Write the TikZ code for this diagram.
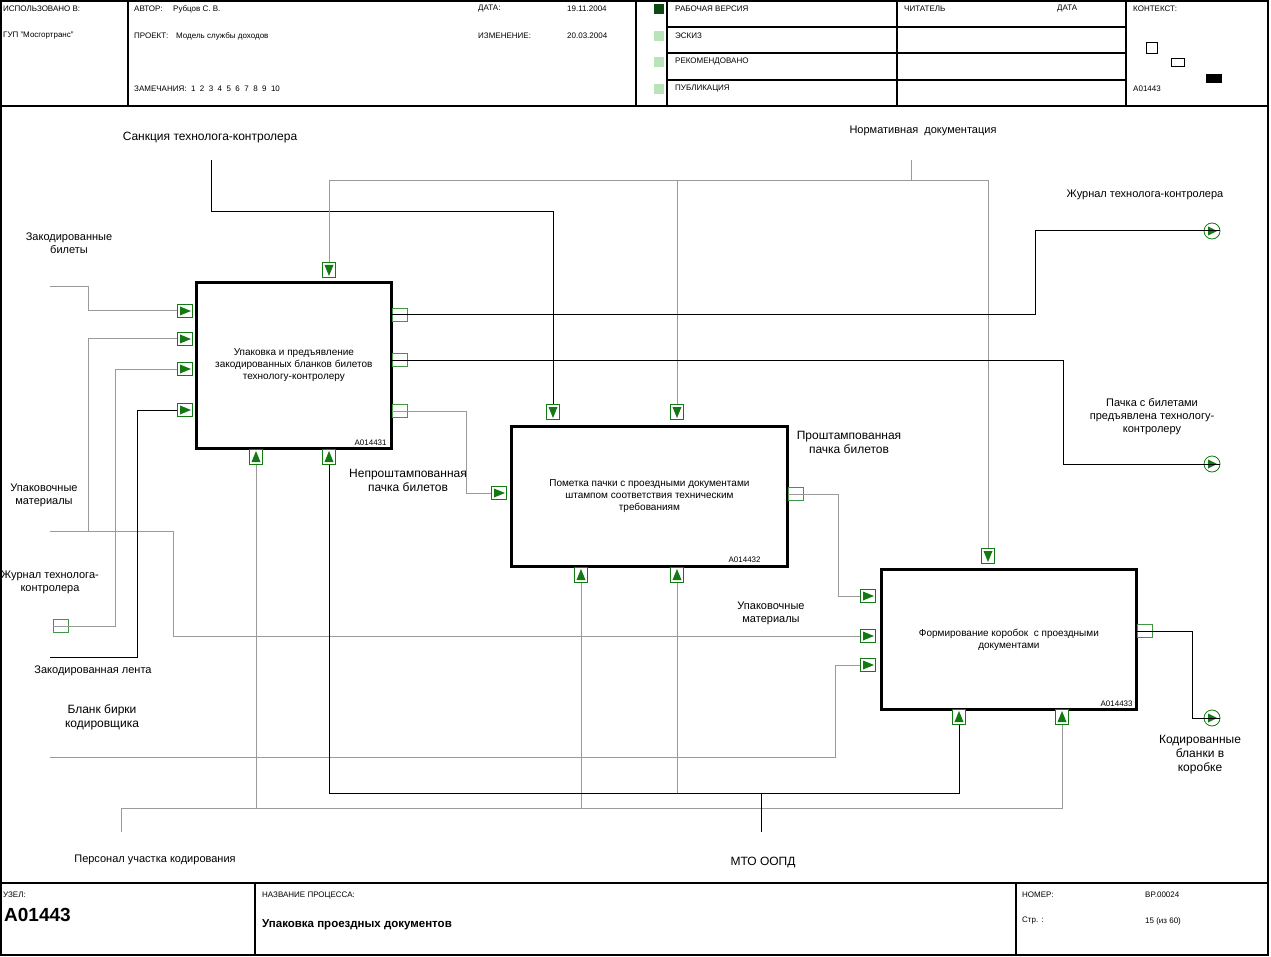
\documentclass[tikz,border=0pt]{standalone}
\usepackage{fontspec}
\setmainfont{Liberation Sans}
\definecolor{idgreen}{HTML}{137A13}
\definecolor{iddark}{HTML}{0D4A12}
\definecolor{idlight}{HTML}{B9E4B9}
\definecolor{lngray}{HTML}{9A9A9A}

\tikzset{
  frame/.style={line width=1.6pt},
  hdr/.style={font=\fontsize{8}{9}\selectfont, anchor=west, inner sep=0pt},
  proc/.style={draw, line width=2.8pt, fill=white, anchor=north west, align=center,
    inner sep=0pt, font=\fontsize{10}{12}\selectfont},
  procid/.style={font=\fontsize{8}{9}\selectfont, anchor=south east, inner sep=0pt},
  lbl/.style={align=center, inner sep=0pt, font=\fontsize{11}{13}\selectfont},
  biglbl/.style={align=center, inner sep=0pt, font=\fontsize{12}{14}\selectfont},
  ln/.style={draw=lngray, line width=1pt},
  lnk/.style={draw=black, line width=1pt},
  inmark/.style={draw=idgreen, line width=0.8pt, fill=white, inner sep=0pt,
    minimum width=15pt, minimum height=13pt,
    path picture={\fill[idgreen] ([xshift=2.5pt,yshift=-2pt]path picture bounding box.north west)
      -- ([xshift=-1.5pt]path picture bounding box.east)
      -- ([xshift=2.5pt,yshift=2pt]path picture bounding box.south west) -- cycle;}},
  ctlmark/.style={draw=idgreen, line width=0.8pt, fill=white, inner sep=0pt,
    minimum width=13pt, minimum height=15pt,
    path picture={\fill[idgreen] ([xshift=2pt,yshift=-2.5pt]path picture bounding box.north west)
      -- ([xshift=-2pt,yshift=-2.5pt]path picture bounding box.north east)
      -- ([yshift=1.5pt]path picture bounding box.south) -- cycle;}},
  mechmark/.style={draw=idgreen, line width=0.8pt, fill=white, inner sep=0pt,
    minimum width=13pt, minimum height=15pt,
    path picture={\fill[idgreen] ([xshift=2pt,yshift=2.5pt]path picture bounding box.south west)
      -- ([xshift=-2pt,yshift=2.5pt]path picture bounding box.south east)
      -- ([yshift=-1.5pt]path picture bounding box.north) -- cycle;}},
  tunnel/.style={draw=idgreen!80, line width=0.8pt, inner sep=0pt,
    minimum width=15pt, minimum height=13pt},
  endmark/.style={circle, draw=idgreen, line width=0.8pt, fill=white, inner sep=0pt,
    minimum size=16pt,
    path picture={\fill[idgreen] ([xshift=-4pt,yshift=4.5pt]path picture bounding box.center)
      -- ([xshift=5pt]path picture bounding box.center)
      -- ([xshift=-4pt,yshift=-4.5pt]path picture bounding box.center) -- cycle;}}
}

\begin{document}
\begin{tikzpicture}[x=1pt, y=-1pt]
  \useasboundingbox (0,0) rectangle (1271,957);
  \fill[white] (0,0) rectangle (1271,957);

  % frame
  \draw[frame] (1,1) rectangle (1268,955);
  \draw[frame] (1,106) -- (1268,106);
  \draw[frame] (1,883) -- (1268,883);
  \foreach \xx in {128,636,667,897,1126}
    \draw[frame] (\xx,1) -- (\xx,106);
  \foreach \yy in {27,53,80}
    \draw[frame] (667,\yy) -- (1126,\yy);
  \draw[frame] (255,883) -- (255,955);
  \draw[frame] (1016,883) -- (1016,955);

  % header
  \node[hdr] (h1) at (3,9) {ИСПОЛЬЗОВАНО В:};
  \node[hdr] (h2) at (3,36) {ГУП "Мосгортранс"};
  \node[hdr] (h3) at (134,9) {АВТОР:};
  \node[hdr] (h4) at (173,9) {Рубцов С. В.};
  \node[hdr] (h5) at (134,36) {ПРОЕКТ:};
  \node[hdr] (h6) at (176,36) {Модель службы доходов};
  \node[hdr] (h7) at (134,89) {ЗАМЕЧАНИЯ:\ \ 1\ \ 2\ \ 3\ \ 4\ \ 5\ \ 6\ \ 7\ \ 8\ \ 9\ \ 10};
  \node[hdr] (h8) at (478,9) {ДАТА:};
  \node[hdr] (h9) at (567,9) {19.11.2004};
  \node[hdr] (h10) at (478,36) {ИЗМЕНЕНИЕ:};
  \node[hdr] (h11) at (567,36) {20.03.2004};
  \fill[iddark] (654,4) rectangle (664,14);
  \foreach \yy in {31,57,84}
    \fill[idlight] (654,\yy) rectangle (664,\yy+10);
  \node[hdr] (s1) at (675,9) {РАБОЧАЯ ВЕРСИЯ};
  \node[hdr] (s2) at (675,36) {ЭСКИЗ};
  \node[hdr] (s3) at (675,62) {РЕКОМЕНДОВАНО};
  \node[hdr] (s4) at (675,89) {ПУБЛИКАЦИЯ};
  \node[hdr] (r1) at (904,9) {ЧИТАТЕЛЬ};
  \node[hdr] (r2) at (1057,9) {ДАТА};
  \node[hdr] (k1) at (1133,9) {КОНТЕКСТ:};
  \node[hdr] (k2) at (1133,89) {A01443};
  \draw[line width=0.7pt] (1146,42) rectangle (1157,53);
  \draw[line width=0.7pt] (1171,58) rectangle (1184,66);
  \fill (1206,74) rectangle (1222,83);

  % footer
  \node[hdr] (f1) at (3,895) {УЗЕЛ:};
  \node[anchor=west, inner sep=0pt, font=\fontsize{19}{21}\selectfont\bfseries] (f2) at (4,915) {A01443};
  \node[hdr] (f3) at (262,895) {НАЗВАНИЕ ПРОЦЕССА:};
  \node[anchor=west, inner sep=0pt, font=\fontsize{11.5}{13}\selectfont\bfseries] (f4) at (262,925) {Упаковка проездных документов};
  \node[hdr] (f5) at (1022,895) {НОМЕР:};
  \node[hdr] (f6) at (1145,895) {BP.00024};
  \node[hdr] (f7) at (1022,921) {Стр. :};
  \node[hdr] (f8) at (1145,921) {15 (из 60)};

  % activity boxes
  \node[proc, minimum width=195pt, minimum height=166pt] (p1) at (195,281)
    {Упаковка и предъявление\\закодированных бланков билетов\\технологу-контролеру};
  \node[proc, minimum width=276pt, minimum height=140pt] (p2) at (510,425)
    {Пометка пачки с проездными документами\\штампом соответствия техническим\\требованиям};
  \node[proc, minimum width=255pt, minimum height=140pt] (p3) at (880,568)
    {Формирование коробок\ \ с проездными\\документами};
  \node[procid] (p1n) at ([xshift=-6pt,yshift=4pt]p1.south east) {A014431};
  \node[procid] (p2n) at ([xshift=-28pt,yshift=5pt]p2.south east) {A014432};
  \node[procid] (p3n) at ([xshift=-5pt,yshift=4pt]p3.south east) {A014433};

  % arrow marks
  \node[inmark] (i11) at (185,311) {};
  \node[inmark] (i12) at (185,339) {};
  \node[inmark] (i13) at (185,369) {};
  \node[inmark] (i14) at (185,410) {};
  \node[inmark] (i21) at (499,493) {};
  \node[inmark] (i31) at (868,596) {};
  \node[inmark] (i32) at (868,636) {};
  \node[inmark] (i33) at (868,665) {};
  \node[ctlmark] (c11) at (329,270) {};
  \node[ctlmark] (c21) at (553,412) {};
  \node[ctlmark] (c22) at (677,412) {};
  \node[ctlmark] (c31) at (988,556) {};
  \node[mechmark] (m11) at (256,457) {};
  \node[mechmark] (m12) at (329,457) {};
  \node[mechmark] (m21) at (581,575) {};
  \node[mechmark] (m22) at (677,575) {};
  \node[mechmark] (m31) at (959,717) {};
  \node[mechmark] (m32) at (1062,717) {};
  \node[tunnel] (o11) at (400,315) {};
  \node[tunnel] (o12) at (400,360) {};
  \node[tunnel] (o13) at (400,411) {};
  \node[tunnel] (o21) at (796,494) {};
  \node[tunnel] (o31) at (1145,631) {};
  \node[tunnel] (jt) at (61,626) {};
  \node[endmark] (e1) at (1212,231) {};
  \node[endmark] (e2) at (1212,464) {};
  \node[endmark] (e3) at (1212,718) {};

  % free ends
  \coordinate (zb) at (50,287);
  \coordinate (um) at (50,531);
  \coordinate (zl) at (50,657);
  \coordinate (bb) at (50,757);
  \coordinate (sk) at (211,160);
  \coordinate (nd) at (911,160);
  \coordinate (ps) at (121,832);
  \coordinate (mto) at (761,832);

  % inputs
  \draw[ln] (zb) -| (88,311) -- (i11);
  \draw[ln] (um) -| (173,636) -- (i32);
  \draw[ln] (88,531) |- (i12);
  \draw[ln] (jt.west) -| (115,369) -- (i13);
  \draw[lnk] (zl) -| (137,410) -- (i14);
  \draw[ln] (bb) -| (835,665) -- (i33);
  \draw[ln] (o13.west) -| (466,493) -- (i21);
  \draw[ln] (o21.west) -| (838,596) -- (i31);

  % controls
  \draw[lnk] (sk) -- (211,212) -| (c21);
  \draw[ln] (nd) -- (911,181) -| (c11);
  \draw[ln] (911,181) -| (c31);
  \draw[ln] (677,181) -- (c22);

  % mechanisms
  \draw[ln] (ps) -- (121,808) -| (m32);
  \draw[ln] (256,808) -- (m11);
  \draw[ln] (581,808) -- (m21);
  \draw[lnk] (mto) -- (761,793) -| (m31);
  \draw[lnk] (761,793) -| (m12);
  \draw[ln] (677,793) -- (m22);

  % outputs
  \draw[lnk] (o11.west) -| (1035,231) -- (e1.east);
  \draw[lnk] (o12.west) -| (1063,464) -- (e2.east);
  \draw[lnk] (o31.west) -| (1192,718) -- (e3.east);

  % labels
  \node[biglbl] (l1) at (210,138) {Санкция технолога-контролера};
  \node[lbl] (l2) at (923,131) {Нормативная\ \ документация};
  \node[lbl] (l3) at (1145,195) {Журнал технолога-контролера};
  \node[lbl] (l4) at (69,243) {Закодированные\\билеты};
  \node[lbl] (l5) at (44,495) {Упаковочные\\материалы};
  \node[lbl] (l6) at (50,582) {Журнал технолога-\\контролера};
  \node[lbl] (l7) at (93,671) {Закодированная лента};
  \node[biglbl] (l8) at (102,717) {Бланк бирки\\кодировщика};
  \node[lbl] (l9) at (155,860) {Персонал участка кодирования};
  \node[biglbl] (l10) at (763,862) {МТО ООПД};
  \node[biglbl] (l11) at (408,480) {Непроштампованная\\пачка билетов};
  \node[biglbl] (l12) at (849,442) {Проштампованная\\пачка билетов};
  \node[lbl] (l13) at (771,613) {Упаковочные\\материалы};
  \node[lbl] (l14) at (1152,417) {Пачка с билетами\\предъявлена технологу-\\контролеру};
  \node[biglbl] (l15) at (1200,755) {Кодированные\\бланки в\\коробке};
\end{tikzpicture}
\end{document}
